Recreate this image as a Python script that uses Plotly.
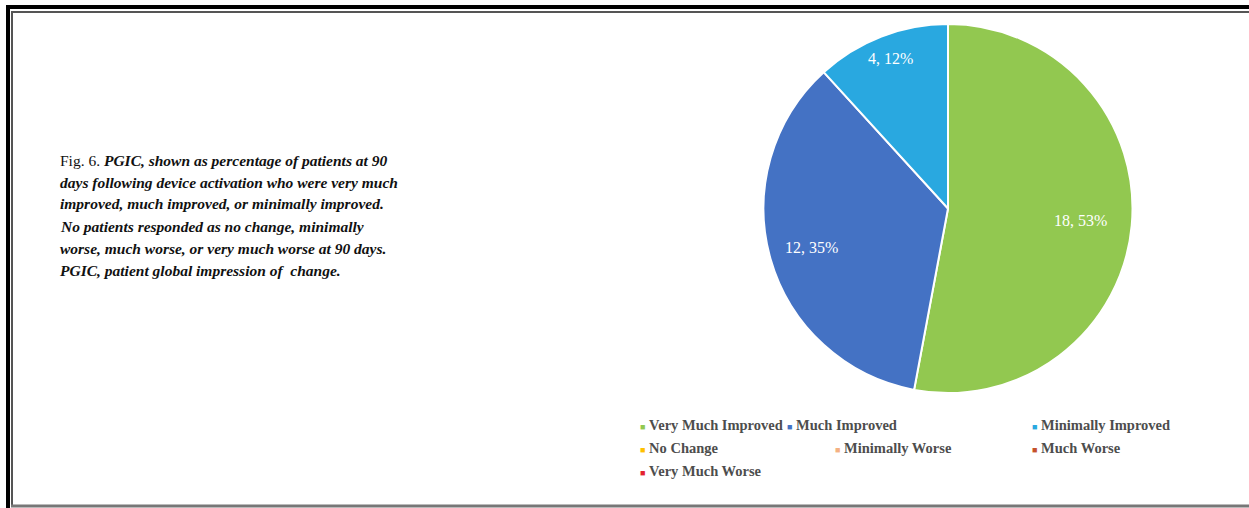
import math
import plotly.graph_objects as go

# PGIC responses at 90 days
categories = ["Very Much Improved", "Much Improved", "Minimally Improved",
              "No Change", "Minimally Worse", "Much Worse", "Very Much Worse"]
patients = [18, 12, 4, 0, 0, 0, 0]
colors = ["#92C850", "#4472C4", "#29A8E0", "#FFC000", "#F4B183", "#C5512B", "#E3232F"]

caption_lines = [
    "Fig. 6. <b><i>PGIC, shown as percentage of patients at 90</i></b>",
    "<b><i>days following device activation who were very much</i></b>",
    "<b><i>improved, much improved, or minimally improved.</i></b>",
    "<b><i>No patients responded as no change, minimally</i></b>",
    "<b><i>worse, much worse, or very much worse at 90 days.</i></b>",
    "<b><i>PGIC, patient global impression of  change.</i></b>",
]

W, H = 1249, 508
SERIF = "Liberation Serif, Times New Roman, serif"


def px(x):
    return x / W


def py(y):
    return 1 - y / H


# pie geometry (pixels)
cx, cy, r = 948, 208.5, 184.5

fig = go.Figure(go.Pie(
    labels=categories,
    values=patients,
    sort=False,
    direction="clockwise",
    rotation=0,
    marker=dict(colors=colors, line=dict(color="white", width=2)),
    textinfo="none",
    showlegend=False,
    hoverinfo="label+value+percent",
    domain=dict(x=[px(cx - r), px(cx + r)], y=[py(cy + r), py(cy - r)]),
))

shapes = []
# double frame: heavy outer rule, thin inner rule
shapes.append(dict(type="line", xref="paper", yref="paper",
                   x0=px(6), x1=1, y0=py(7), y1=py(7),
                   line=dict(color="black", width=4)))
shapes.append(dict(type="line", xref="paper", yref="paper",
                   x0=px(8), x1=px(8), y0=py(5), y1=0,
                   line=dict(color="black", width=4)))
shapes.append(dict(type="line", xref="paper", yref="paper",
                   x0=px(12), x1=1, y0=py(12), y1=py(12),
                   line=dict(color="#555555", width=2)))
shapes.append(dict(type="line", xref="paper", yref="paper",
                   x0=px(12), x1=px(12), y0=py(11), y1=py(506),
                   line=dict(color="#555555", width=2)))
shapes.append(dict(type="line", xref="paper", yref="paper",
                   x0=px(11), x1=1, y0=py(506), y1=py(506),
                   line=dict(color="#777777", width=3)))

annotations = []

# caption, one annotation per line for even spacing
for i, line in enumerate(caption_lines):
    annotations.append(dict(
        text=line, xref="paper", yref="paper",
        x=px(58), y=py(160 + 22 * i),
        xanchor="left", yanchor="middle", align="left", showarrow=False,
        font=dict(family=SERIF, size=15.5, color="#111111"),
    ))

# slice data labels "count, percent" placed along each slice's mid-angle
total = sum(patients)
label_radius = [0.72, 0.77, 0.87]
cum = 0
for i, v in enumerate(patients):
    if v == 0:
        continue
    mid = (cum + v / 2) / total * 2 * math.pi
    cum += v
    rr = r * label_radius[i]
    lx = cx + rr * math.sin(mid)
    ly = cy - rr * math.cos(mid)
    annotations.append(dict(
        text=f"{v}, {round(100 * v / total)}%",
        xref="paper", yref="paper", x=px(lx), y=py(ly),
        xanchor="center", yanchor="middle", showarrow=False,
        font=dict(family=SERIF, size=16, color="white"),
    ))

# legend laid out in rows under the pie
legend_rows = [[0, 1, 2], [3, 4, 5], [6]]
row_y = [425, 448, 471]
row_x = [[638, 785, 1030], [638, 833, 1030], [638]]
for ri, row in enumerate(legend_rows):
    for ci, idx in enumerate(row):
        annotations.append(dict(
            text=f"<span style='color:{colors[idx]};font-size:9px'>■</span> <b>{categories[idx]}</b>",
            xref="paper", yref="paper", x=px(row_x[ri][ci]), y=py(row_y[ri]),
            xanchor="left", yanchor="middle", align="left", showarrow=False,
            font=dict(family=SERIF, size=14.5, color="#4d4d4d"),
        ))

fig.update_layout(
    width=W, height=H, autosize=False,
    margin=dict(l=0, r=0, t=0, b=0),
    paper_bgcolor="white", plot_bgcolor="white",
    shapes=shapes, annotations=annotations,
)

fig.write_html("out.html")
